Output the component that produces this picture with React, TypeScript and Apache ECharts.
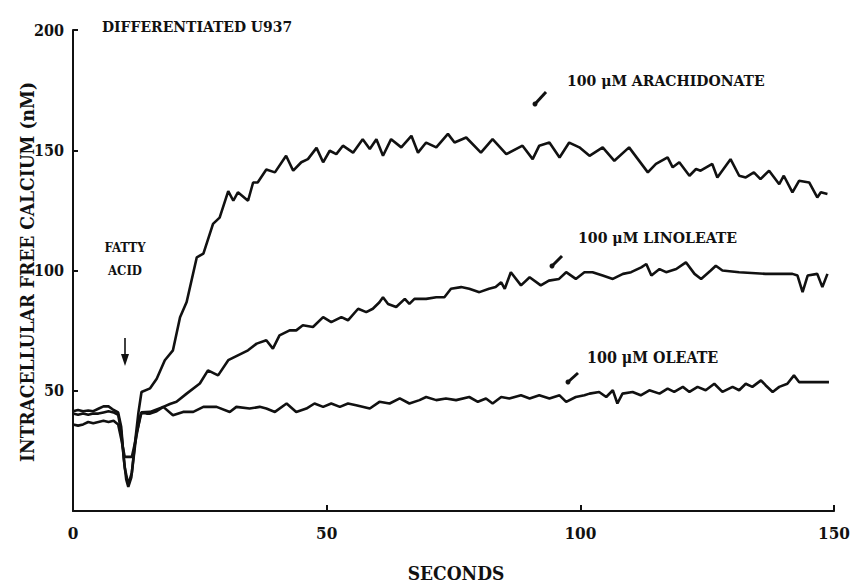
import React, { useEffect, useRef } from "react";
import * as echarts from "echarts";

const xTicks = [0, 50, 100, 150];
const yTicks = [0, 50, 100, 150, 200];

const arachT = [0, 1, 2, 3, 4, 5, 6, 7, 8, 8.9, 9.5, 10, 10.5, 10.9, 11.5, 12.2, 12.9, 13.5, 15.2, 16.5, 18.1, 19.7, 21.1, 22.4, 24.4, 25.7, 27.6, 28.9, 30.6, 31.6, 32.5, 34.5, 35.5, 36.4, 38.1, 39.8, 42, 43.4, 45, 46.3, 48, 49.3, 50.6, 51.9, 53.2, 55.2, 57.1, 58.5, 59.8, 61.1, 62.7, 64.7, 66.7, 68, 69.6, 71.6, 73.9, 75.2, 77.5, 80.4, 82.7, 85.4, 88.6, 90.6, 91.9, 93.9, 95.9, 97.8, 99.8, 101.8, 104.4, 106.7, 109.6, 113.3, 114.9, 117.2, 118.2, 119.5, 121.5, 122.8, 123.7, 126, 127, 129.6, 131.3, 132.6, 134.2, 135.5, 137.2, 139.2, 140.1, 141.8, 143.1, 145.1, 146.7, 147.4, 148.7];
const arachV = [41.5, 42, 41.5, 41.8, 41.5, 42.5, 43.5, 43.5, 42, 41, 35, 22, 13, 10, 14, 28, 41, 49.5, 51, 55, 62.7, 66.8, 80.6, 86.9, 105.5, 107, 119.4, 122, 133, 129, 132.5, 129, 136.6, 136.6, 142, 140.8, 147.7, 141.5, 145, 146.3, 151, 145, 149.8, 148.4, 151.9, 149, 154.6, 150.5, 154.6, 147.7, 154.6, 151.2, 156, 149, 153.2, 151.2, 156.8, 153.2, 155.3, 149, 154.6, 148.4, 151.9, 146.3, 151.9, 153.2, 147, 153.2, 151.2, 147.7, 151.2, 145.6, 151.2, 140.8, 144.3, 147, 142.9, 145, 139.4, 142.2, 141.5, 144.3, 138.7, 146.3, 139.4, 138.7, 140.8, 138, 141.5, 135.9, 139.4, 132.5, 137.3, 136.6, 130.4, 132.5, 131.8];

const linoT = [0, 1, 2, 3, 4, 5, 6, 7, 8, 8.9, 9.5, 10.2, 10.9, 11.6, 12.5, 13.5, 14.5, 15.2, 16.5, 17.8, 19.1, 20.4, 22.4, 25, 26.6, 28.6, 30.6, 32.5, 34.5, 36.2, 38.1, 39.4, 40.7, 42.7, 44, 45.3, 47.3, 49.3, 50.9, 52.9, 54.2, 56.2, 57.8, 59.1, 60.4, 61.1, 62.1, 63.7, 65.4, 66.3, 67.3, 69.6, 71.6, 73.2, 74.5, 76.5, 78.1, 80.1, 82, 83.3, 84.4, 85.1, 86.3, 88.3, 90, 92.2, 93.8, 95.8, 97.2, 99.1, 100.8, 102.4, 104.4, 106.4, 108.4, 110, 112, 113, 114, 115.6, 116.9, 118.9, 120.8, 122.5, 123.8, 125.7, 126.7, 128, 131.3, 136.5, 141.8, 142.8, 143.8, 144.8, 146.7, 147.7, 148.7];
const linoV = [40.5, 40, 40.5, 40, 40.5, 40.5, 41, 41.5, 41, 40, 33, 18, 11, 16, 32, 41, 40.5, 40.5, 41.5, 43.3, 44.5, 45.4, 48.8, 53, 58.5, 56.4, 62.7, 64.7, 66.8, 69.6, 71, 67.5, 73, 75.1, 75.1, 77.2, 76.5, 80.6, 78.5, 80.6, 79.3, 84.1, 82.7, 84.1, 86.8, 88.9, 86.1, 84.8, 88.2, 86.1, 88.2, 88.2, 88.9, 88.9, 92.4, 93.1, 92.4, 91, 92.4, 93.1, 95.1, 92.4, 99.3, 93.8, 97.2, 93.8, 95.8, 96.5, 99.3, 96.5, 99.3, 99.3, 97.9, 96.5, 98.6, 99.3, 101.3, 102.7, 97.9, 100.6, 99.3, 100.6, 103.4, 98.6, 96.5, 100, 102, 100, 99.3, 98.6, 98.6, 97.9, 91, 97.9, 98.6, 93.1, 98.6];

const oleT = [0, 1, 2, 3, 4, 5, 6, 7, 8, 8.9, 9.5, 10.2, 11.6, 12.4, 13.2, 13.5, 15.2, 17.8, 19.7, 21.7, 23.7, 25.7, 28.3, 30.9, 32.2, 34.8, 36.8, 38.1, 39.8, 42.1, 44, 46, 47.6, 49.3, 50.9, 52.6, 54.2, 55.8, 58.5, 60.4, 62.4, 64.4, 66.3, 68.3, 69.6, 71.6, 73.5, 75.5, 78.1, 79.8, 81.4, 82.7, 84.4, 86, 88.3, 90, 91.9, 93.9, 95.9, 97.2, 99.1, 100.8, 101.8, 103.7, 105.1, 106.4, 107.3, 108.3, 110.3, 111.9, 113.6, 115.6, 117.2, 118.5, 120.2, 121.5, 123.1, 124.7, 126.4, 128, 130, 131.3, 132.6, 133.9, 135.6, 136.5, 137.9, 139.2, 140.8, 142.1, 143.1, 145.7, 149];
const oleV = [36, 35.5, 36, 37, 36.5, 37, 37.5, 37, 37.5, 36, 30, 22.5, 22.5, 30, 39, 41, 41.2, 43.3, 39.8, 41.2, 41.2, 43.3, 43.3, 41.2, 43.3, 42.6, 43.3, 42.6, 41.2, 44.7, 41.2, 42.6, 44.7, 43.3, 44.7, 43.3, 44.7, 44, 42.6, 45.4, 44.7, 46.8, 44.7, 46.1, 47.4, 46.1, 46.8, 46.1, 47.4, 45.4, 46.8, 44.7, 47.4, 46.8, 48.1, 46.8, 48.1, 46.8, 48.1, 45.4, 47.4, 48.1, 48.8, 49.5, 47.4, 50.2, 44.7, 48.8, 49.5, 48.1, 50.2, 48.8, 50.9, 49.5, 51.6, 49.5, 51.6, 50.2, 52.9, 49.5, 51.6, 50.2, 52.9, 51.6, 54.3, 52.3, 49.5, 51.6, 52.9, 56.4, 53.6, 53.6, 53.6];

const FONT = "'DejaVu Serif Condensed', 'DejaVu Serif', serif";
const INK = "#111";

function pairs(t: number[], v: number[]) {
  return t.map((x, i) => [x, v[i]]);
}

export default function App() {
  const ref = useRef<HTMLDivElement>(null);
  useEffect(() => {
    if (!ref.current) return;
    const chart = echarts.init(ref.current, undefined, { renderer: "svg" });
    const lineStyle = { color: INK, width: 2.6 };
    const txt = (x: number, y: number, text: string, size: number, align = "left", extra: any = {}) => ({
      type: "text",
      x,
      y,
      ...extra,
      style: {
        text,
        fill: INK,
        font: `bold ${size}px ${FONT}`,
        textAlign: align,
        textVerticalAlign: "middle",
      },
    });
    const mark = (x1: number, y1: number, x2: number, y2: number) => [
      { type: "line", shape: { x1, y1, x2, y2 }, style: { stroke: INK, lineWidth: 3 } },
      { type: "circle", shape: { cx: x1, cy: y1, r: 2.5 }, style: { fill: INK } },
    ];
    chart.setOption({
      animation: false,
      backgroundColor: "#fff",
      grid: { left: 73, right: 18, top: 30, bottom: 75 },
      xAxis: {
        type: "value",
        min: xTicks[0],
        max: xTicks[xTicks.length - 1],
        interval: 50,
        splitLine: { show: false },
        axisLine: { lineStyle: { color: INK, width: 2 } },
        axisTick: { inside: true, length: 6, lineStyle: { color: INK, width: 2 } },
        axisLabel: { color: INK, fontFamily: FONT, fontWeight: "bold", fontSize: 17, margin: 13 },
      },
      yAxis: {
        type: "value",
        min: yTicks[0],
        max: yTicks[yTicks.length - 1],
        interval: 50,
        splitLine: { show: false },
        axisLine: { show: true, lineStyle: { color: INK, width: 2 } },
        axisTick: { show: true, inside: true, length: 5, lineStyle: { color: INK, width: 2 } },
        axisLabel: {
          color: INK,
          fontFamily: FONT,
          fontWeight: "bold",
          fontSize: 16,
          margin: 9,
          formatter: (v: number) => (v === 0 ? "" : String(v)),
        },
      },
      series: [
        { name: "100 μM ARACHIDONATE", type: "line", data: pairs(arachT, arachV), showSymbol: false, lineStyle },
        { name: "100 μM LINOLEATE", type: "line", data: pairs(linoT, linoV), showSymbol: false, lineStyle },
        { name: "100 μM OLEATE", type: "line", data: pairs(oleT, oleV), showSymbol: false, lineStyle },
      ],
      graphic: [
        txt(102, 26, "DIFFERENTIATED U937", 15.5),
        txt(27, 272, "INTRACELLULAR FREE CALCIUM (nM)", 19, "center", { rotation: Math.PI / 2 }),
        txt(456, 573, "SECONDS", 19, "center"),
        txt(125, 247, "FATTY", 13, "center"),
        txt(125, 270, "ACID", 13, "center"),
        { type: "line", shape: { x1: 125, y1: 338, x2: 125, y2: 360 }, style: { stroke: INK, lineWidth: 1.6 } },
        { type: "polygon", shape: { points: [[121, 354], [129, 354], [125, 366]] }, style: { fill: INK } },
        txt(567, 80, "100 μM ARACHIDONATE", 15.6),
        txt(578, 237, "100 μM LINOLEATE", 15.7),
        txt(587, 357, "100 μM OLEATE", 15.9),
        ...mark(535, 104, 546, 92),
        ...mark(552, 266, 562, 256),
        ...mark(568, 382, 578, 373),
      ],
    });
    return () => chart.dispose();
  }, []);
  return <div ref={ref} style={{ position: "absolute", left: 0, top: 0, width: 853, height: 586 }} />;
}
